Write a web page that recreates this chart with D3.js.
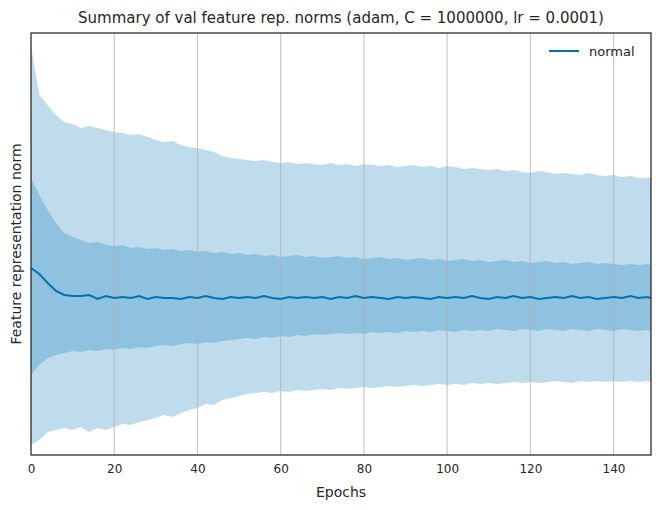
<!DOCTYPE html>
<html><head><meta charset="utf-8">
<script src="https://cdn.jsdelivr.net/npm/d3@7"></script>
<style>body{margin:0;background:#fff;font-family:"DejaVu Sans",sans-serif}</style>
</head><body><svg id="c" width="660" height="510"></svg>
<script>
const title = "Summary of val feature rep. norms (adam, C = 1000000, lr = 0.0001)";
const xTicks = [0,20,40,60,80,100,120,140];
const seriesName = "normal";
const meanVals = [187,181,172,164,160,159,159,160,156,159,157,158,157,159,156,158,157,157,156,158,157,159,157,156,158,157,158,157,159,157,156,158,157,158,157,158,156,158,157,159,157,158,157,156,158,157,158,157,156,158,157,158,157,159,157,156,158,157,159,157,158,156,157,158,157,159,157,158,156,157,158,157,159,157,158,157];
const outerUpper = [410,360,350,340,333,331,327,329,327,325,323,322,320,321,318,315,313,314,310,308,307,305,303,299,297,296,295,294,295,293,292,293,291,292,291,290,292,290,291,289,291,290,289,290,288,289,290,288,289,287,289,288,286,287,286,285,286,284,285,283,282,284,283,281,282,281,280,282,280,279,280,278,279,277,277,278];
const outerLower = [10,15,23,25,27,25,28,23,27,25,28,31,30,33,35,37,40,38,42,45,47,51,50,55,57,59,61,62,63,62,64,63,65,64,65,66,65,67,66,67,68,67,68,69,68,69,70,69,70,71,70,71,70,72,71,72,71,72,73,72,73,72,73,74,73,72,74,73,74,73,74,73,74,73,74,73];
const innerUpper = [277,260,245,232,222,218,215,212,213,210,209,210,207,208,206,207,205,206,204,205,203,204,202,203,201,202,200,201,199,200,198,199,200,198,199,197,198,199,197,198,196,197,198,196,197,195,196,197,195,196,194,195,196,194,195,193,194,195,193,194,192,193,194,192,193,191,192,193,191,192,191,190,191,190,191,190];
const innerLower = [80,90,97,100,102,104,103,105,104,106,105,107,106,108,107,109,110,109,111,112,111,113,112,114,115,116,117,116,118,117,119,118,120,119,121,120,121,122,121,122,121,123,122,123,122,124,123,124,123,125,124,123,125,124,125,124,126,125,124,126,125,124,126,125,124,126,125,124,126,125,124,126,125,124,125,124];
const epochs = d3.range(0, 150, 2).concat([149]);

const svg = d3.select("#c");
const L=31,R=651,T=33,B=455;
const x = d3.scaleLinear().domain([0,149]).range([L,R]);
const y = d3.scaleLinear().domain([0,422]).range([B,T]);
const blue="#0072B2";
const area=(lo,hi)=>d3.area().x((d,i)=>x(epochs[i])).y0((d,i)=>y(lo[i])).y1((d,i)=>y(hi[i]));
svg.append("path").datum(epochs).attr("d",area(outerLower,outerUpper)).attr("fill",blue).attr("fill-opacity",0.25);
svg.append("path").datum(epochs).attr("d",area(innerLower,innerUpper)).attr("fill",blue).attr("fill-opacity",0.25);
svg.selectAll(".g").data(xTicks.filter(t=>t>0)).enter().append("line")
  .attr("x1",d=>x(d)).attr("x2",d=>x(d)).attr("y1",T).attr("y2",B)
  .attr("stroke","#b0b0b0").attr("stroke-opacity",0.7).attr("stroke-width",1.2);
svg.append("path").datum(meanVals).attr("d",d3.line().x((d,i)=>x(epochs[i])).y(d=>y(d)))
  .attr("fill","none").attr("stroke",blue).attr("stroke-width",2);
svg.append("rect").attr("x",L).attr("y",T).attr("width",R-L).attr("height",B-T)
  .attr("fill","none").attr("stroke","#262626").attr("stroke-width",1.25);
const ax = svg.append("g").attr("transform",`translate(0,${B})`)
  .call(d3.axisBottom(x).tickValues(xTicks).tickSize(0).tickPadding(9));
ax.select(".domain").remove();
ax.selectAll("text").attr("font-size",12).attr("fill","#262626").attr("font-family","DejaVu Sans");
svg.append("text").attr("x",(L+R)/2).attr("y",23).attr("text-anchor","middle").attr("font-size",15).attr("fill","#262626").text(title);
svg.append("text").attr("x",(L+R)/2).attr("y",497).attr("text-anchor","middle").attr("font-size",14).attr("fill","#262626").text("Epochs");
svg.append("text").attr("transform",`translate(21,${(T+B)/2}) rotate(-90)`).attr("text-anchor","middle").attr("font-size",14).attr("fill","#262626").text("Feature representation norm");
svg.append("line").attr("x1",549).attr("x2",579).attr("y1",51).attr("y2",51).attr("stroke",blue).attr("stroke-width",2);
svg.append("text").attr("x",589).attr("y",56).attr("font-size",13).attr("fill","#262626").text(seriesName);
</script></body></html>
